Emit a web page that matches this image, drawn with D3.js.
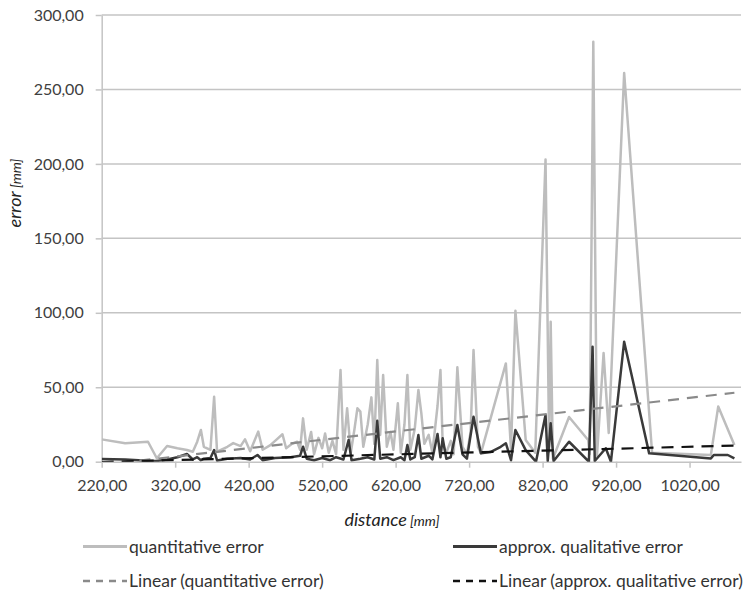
<!DOCTYPE html>
<html>
<head>
<meta charset="utf-8">
<script src="https://cdn.jsdelivr.net/npm/d3@7"></script>
<style>
  html, body { margin: 0; padding: 0; background: #fff; }
  svg { display: block; font-family: Lato, "Open Sans", sans-serif; }
</style>
</head>
<body>
<svg id="chart" width="747" height="592"></svg>
<script>
// ---- data ----
const xTicks = [220, 320, 420, 520, 620, 720, 820, 920, 1020];
const yTicks = [0, 50, 100, 150, 200, 250, 300];

const quantDist = [
  220, 252, 283, 295, 309, 323, 336, 344, 350, 355,
  359, 368, 373, 377, 391, 399, 409, 415, 422, 433,
  439, 449, 456, 466, 471, 479, 486, 490, 494, 499,
  505, 509, 515, 520, 524, 529, 534, 539, 545, 549,
  554, 559, 564, 568, 572, 576, 582, 587, 591, 595,
  599, 603, 608, 613, 617, 623, 627, 632, 636, 640,
  646, 651, 655, 659, 665, 670, 677, 681, 684, 689,
  695, 699, 704, 711, 717, 722, 726, 732, 736, 770,
  777, 783, 797, 810, 824, 829, 831, 834, 856, 882,
  884, 889, 894, 903, 910, 931, 969, 1049, 1059, 1081
];
const quantError = [
  15, 12.4, 13.4, 2.3, 10.5, 9, 7.9, 6.7, 13.4, 21.3,
  10, 8, 43.6, 6.7, 10, 12.5, 10.5, 15, 7, 20.2,
  8, 11, 14, 18.4, 9, 12, 13.4, 8, 29.1, 8,
  20, 5, 16, 9, 19, 6, 14, 5, 61.6, 8,
  35.9, 6, 22, 35.9, 33.6, 10, 25, 43.2, 12, 68.3,
  18, 58.2, 10, 20, 8, 39.2, 6, 25, 58.2, 8,
  22, 48.2, 32.5, 12, 18, 6, 37.4, 61.6, 12, 6,
  14, 5, 63.4, 10, 5, 20, 75, 10, 5.6, 66,
  8, 101.4, 14.6, 6, 203, 6.7, 94, 2, 30, 14.6,
  5, 282, 4, 73, 19.3, 261, 6, 4.5, 37, 11.2
];

const qualDist = [
  220, 252, 282, 295, 309, 323, 336, 344, 350, 355,
  359, 368, 373, 377, 391, 409, 422, 432, 439, 456,
  477, 490, 494, 499, 509, 520, 531, 539, 549, 556,
  560, 572, 582, 591, 595, 599, 608, 617, 627, 632,
  636, 640, 646, 651, 655, 665, 670, 677, 681, 684,
  689, 695, 704, 711, 717, 726, 736, 749, 763, 770,
  777, 783, 797, 811, 824, 827, 831, 835, 856, 883,
  888, 891, 906, 913, 931, 965, 1049, 1053, 1072, 1081
];
const qualError = [
  1.8, 1.5, 0.7, 0.5, 1.5, 3, 5.2, 1.5, 3, 1,
  2, 2.5, 7.8, 0.8, 2, 2.5, 1.5, 4.5, 1, 2.5,
  3, 4, 10.1, 2, 1, 2.5, 1, 3, 1.5, 14.6,
  1, 2, 3, 1.5, 27.5, 2, 3, 1, 3, 1,
  11.2, 1.5, 3, 17.9, 2, 4, 1.5, 18.6, 3, 15.7,
  2, 3, 24.6, 5, 2, 30.2, 5.6, 6.5, 10, 12.4,
  1, 21.3, 7.8, 0, 31.4, 0.5, 25.8, 0.5, 13.4, 0,
  77.2, 0.5, 9, 0, 80.6, 5.6, 2.2, 4.5, 4.5, 2.2
];

// linear trend lines (end points)
const quantTrendDist = [220, 1081];
const quantTrendValue = [-2.2, 46.3];
const qualTrendDist = [220, 1081];
const qualTrendValue = [-0.2, 10.8];

const legendLabels = [
  "quantitative error",
  "approx. qualitative error",
  "Linear (quantitative error)",
  "Linear (approx. qualitative error)"
];

// ---- layout ----
const svg = d3.select("#chart");
const plotLeft = 101.7, plotRight = 741, plotTop = 15, plotBottom = 461.7;

const x = d3.scaleLinear().domain([220, 1090]).range([plotLeft, plotRight]);
const y = d3.scaleLinear().domain([0, 300]).range([plotBottom, plotTop]);

const fmt = d => d.toFixed(2).replace(".", ",");
const gridColor = "#c4c4c4";
const textColor = "#404040";

// gridlines
svg.append("g")
  .selectAll("line")
  .data(yTicks.filter(d => d > 0))
  .join("line")
  .attr("x1", plotLeft).attr("x2", plotRight)
  .attr("y1", d => y(d)).attr("y2", d => y(d))
  .attr("stroke", gridColor).attr("stroke-width", 1.5);

// y axis
const yAxis = svg.append("g")
  .attr("transform", `translate(${plotLeft},0)`)
  .call(d3.axisLeft(y).tickValues(yTicks).tickFormat(fmt).tickSize(6).tickSizeOuter(0).tickPadding(12));
yAxis.select(".domain").attr("stroke", gridColor).attr("stroke-width", 1.5);
yAxis.selectAll(".tick line").attr("stroke", gridColor).attr("stroke-width", 1.5);
yAxis.selectAll(".tick text")
  .attr("fill", textColor).style("font-size", "16px").style("font-family", "Lato, sans-serif");

// x axis
const xAxis = svg.append("g")
  .attr("transform", `translate(0,${plotBottom})`)
  .call(d3.axisBottom(x).tickValues(xTicks).tickFormat(fmt).tickSize(6).tickSizeOuter(0).tickPadding(12));
xAxis.select(".domain").attr("stroke", gridColor).attr("stroke-width", 1.5);
xAxis.selectAll(".tick line").attr("stroke", gridColor).attr("stroke-width", 1.5);
xAxis.selectAll(".tick text")
  .attr("fill", textColor).style("font-size", "16px").style("font-family", "Lato, sans-serif");

// clip
svg.append("clipPath").attr("id", "plotclip")
  .append("rect").attr("x", plotLeft).attr("y", plotTop - 5)
  .attr("width", plotRight - plotLeft).attr("height", plotBottom - plotTop + 5);

const plot = svg.append("g").attr("clip-path", "url(#plotclip)");

const line = d3.line().x(d => x(d[0])).y(d => y(d[1]));

const quantPts = quantDist.map((d, i) => [d, quantError[i]]);
const qualPts = qualDist.map((d, i) => [d, qualError[i]]);
const quantTrendPts = quantTrendDist.map((d, i) => [d, quantTrendValue[i]]);
const qualTrendPts = qualTrendDist.map((d, i) => [d, qualTrendValue[i]]);

plot.append("path").datum(quantPts)
  .attr("d", line).attr("fill", "none")
  .attr("stroke", "#bdbdbd").attr("stroke-width", 2.5)
  .attr("stroke-linejoin", "round");

plot.append("path").datum(qualPts)
  .attr("d", line).attr("fill", "none")
  .attr("stroke", "#3a3a3a").attr("stroke-width", 2.5)
  .attr("stroke-linejoin", "round");

plot.append("path").datum(quantTrendPts)
  .attr("d", line).attr("fill", "none")
  .attr("stroke", "#8a8a8a").attr("stroke-width", 2.2)
  .attr("stroke-dasharray", "11,8");

plot.append("path").datum(qualTrendPts)
  .attr("d", line).attr("fill", "none")
  .attr("stroke", "#111").attr("stroke-width", 2.2)
  .attr("stroke-dasharray", "12,8");

// axis titles
const xt = svg.append("text")
  .attr("x", 392).attr("y", 526)
  .attr("text-anchor", "middle")
  .attr("fill", "#222").style("font-style", "italic")
  .style("font-family", "Lato, sans-serif");
xt.append("tspan").text("distance").style("font-size", "18px");
xt.append("tspan").text(" [mm]").style("font-size", "14px");

const yt = svg.append("text")
  .attr("transform", "translate(21,193) rotate(-90)")
  .attr("text-anchor", "middle")
  .attr("fill", "#222").style("font-style", "italic")
  .style("font-family", "Lato, sans-serif");
yt.append("tspan").text("error").style("font-size", "18px");
yt.append("tspan").text(" [mm]").style("font-size", "14px");

// legend
const legendItems = [
  { label: legendLabels[0], x: 83, y: 546.5, color: "#bdbdbd", dash: null, w: 3 },
  { label: legendLabels[1], x: 453, y: 546.5, color: "#3a3a3a", dash: null, w: 3 },
  { label: legendLabels[2], x: 83, y: 581, color: "#8a8a8a", dash: "7,6", w: 2.5 },
  { label: legendLabels[3], x: 453, y: 581, color: "#111", dash: "7,6", w: 2.5 }
];
const lg = svg.append("g").selectAll("g").data(legendItems).join("g");
lg.append("line")
  .attr("x1", d => d.x).attr("x2", d => d.x + 44)
  .attr("y1", d => d.y).attr("y2", d => d.y)
  .attr("stroke", d => d.color).attr("stroke-width", d => d.w)
  .attr("stroke-dasharray", d => d.dash);
lg.append("text")
  .attr("x", d => d.x + 46).attr("y", d => d.y + 6)
  .attr("fill", "#333").style("font-size", "17.5px")
  .style("font-family", "Lato, sans-serif")
  .text(d => d.label);
</script>
</body>
</html>
